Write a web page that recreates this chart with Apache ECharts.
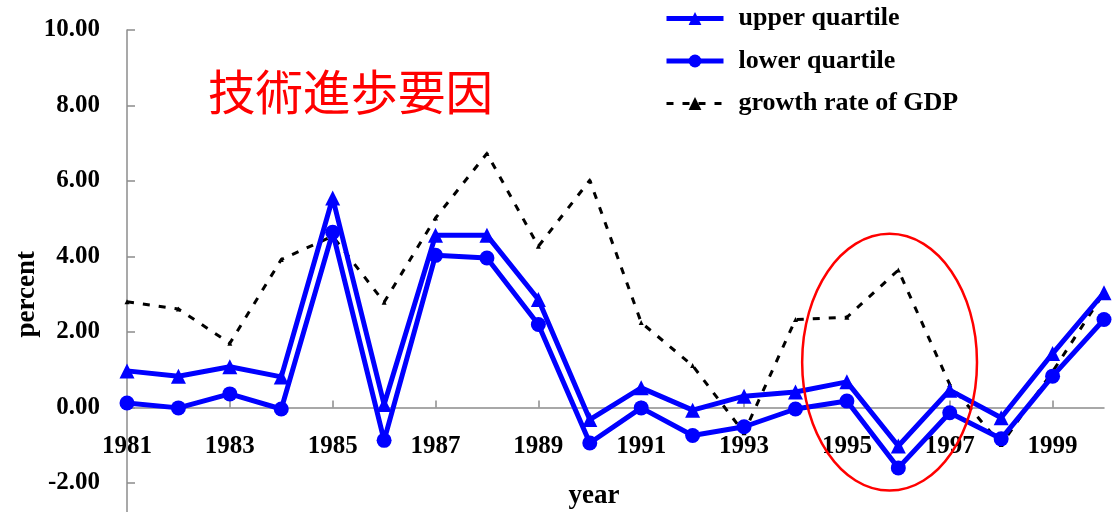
<!DOCTYPE html>
<html>
<head>
<meta charset="utf-8">
<script src="https://cdn.jsdelivr.net/npm/echarts@6/dist/echarts.min.js"></script>
<style>
  html, body { margin: 0; padding: 0; background: #ffffff; }
  #chart { width: 1112px; height: 512px; }
</style>
</head>
<body>
<div id="chart"></div>
<script>
// Years on the horizontal axis
const years = ['1981', '1982', '1983', '1984', '1985', '1986', '1987', '1988', '1989', '1990',
               '1991', '1992', '1993', '1994', '1995', '1996', '1997', '1998', '1999', '2000'];

// Technical progress factor, quartiles across regions (percent)
const upperQuartile = [0.97, 0.83, 1.08, 0.81, 5.55, 0.08, 4.56, 4.56, 2.86, -0.32,
                       0.52, -0.07, 0.30, 0.41, 0.68, -1.02, 0.46, -0.27, 1.43, 3.04];
const lowerQuartile = [0.12, -0.01, 0.36, -0.04, 4.64, -0.87, 4.03, 3.96, 2.20, -0.94,
                       -0.01, -0.74, -0.51, -0.04, 0.17, -1.60, -0.14, -0.83, 0.83, 2.33];
const gdpGrowth     = [2.80, 2.61, 1.70, 3.92, 4.54, 2.79, 5.02, 6.73, 4.27, 6.02,
                       2.25, 1.11, -0.67, 2.33, 2.39, 3.64, 0.61, -0.98, 0.95, 3.04];

const seriesNames = ['upper quartile', 'lower quartile', 'growth rate of GDP'];
const headline = '技術進歩要因';

// Highlighted period (1995-1997 slowdown): centre in (year index, percent), radii in years / percent
const focusCenter = { yearIndex: 14.83, value: 1.2 };
const focusRadius = { years: 1.7, value: 3.4 };

// Value range of the percent axis (the lowest step falls below the visible area)
const yMin = -4, yMax = 10, yStep = 2;

const serif = '"Liberation Serif", "Times New Roman", serif';
const blue = '#0000ff';
const axisGray = '#8c8c8c';

// Plot area: top edge at 10.00, bottom edge (at yMin) below the page
const gridTop = 30;
const gridBottom = -46.5;
const chartHeight = 512;
const plotHeight = chartHeight - gridTop - gridBottom;
// Distance from the plot's bottom edge up to the zero line, so the year axis sits on zero
const zeroLift = plotHeight * (0 - yMin) / (yMax - yMin);

const chart = echarts.init(document.getElementById('chart'), null, { renderer: 'canvas' });

chart.setOption({
  animation: false,
  backgroundColor: '#ffffff',
  title: {
    text: headline,
    left: 203,
    top: 63,
    textStyle: {
      color: '#ff0000',
      fontSize: 47.5,
      fontWeight: 'normal',
      fontFamily: '"Noto Sans CJK JP", "Noto Sans CJK SC", sans-serif'
    }
  },
  legend: {
    orient: 'vertical',
    left: 664,
    top: 5.5,
    padding: 0,
    itemWidth: 57,
    itemHeight: 16,
    itemGap: 16.5,
    data: [
      { name: seriesNames[0], lineStyle: { width: 5 } },
      { name: seriesNames[1], lineStyle: { width: 5 } },
      { name: seriesNames[2], lineStyle: { width: 3 } }
    ],
    textStyle: {
      fontFamily: serif,
      fontWeight: 'bold',
      fontSize: 26,
      color: '#000000',
      padding: [0, 0, 0, 10]
    }
  },
  grid: {
    left: 127,
    right: 8,
    top: gridTop,
    bottom: gridBottom,
    containLabel: false,
    outerBoundsMode: 'none'
  },
  xAxis: {
    type: 'category',
    data: years,
    boundaryGap: false,
    offset: -zeroLift,
    name: 'year',
    nameLocation: 'middle',
    nameGap: 75,
    nameMoveOverlap: false,
    nameTextStyle: {
      fontFamily: serif,
      fontWeight: 'bold',
      fontSize: 27,
      color: '#000000',
      padding: [0, 43, 0, 0]
    },
    axisLine: { onZero: false, lineStyle: { color: axisGray, width: 1.5 } },
    axisTick: { show: true, inside: true, interval: 1, length: 7, lineStyle: { color: axisGray, width: 1.5 } },
    axisLabel: {
      interval: 1,
      margin: 27,
      fontFamily: serif,
      fontWeight: 'bold',
      fontSize: 25,
      color: '#000000'
    },
    splitLine: { show: false }
  },
  yAxis: {
    type: 'value',
    min: yMin,
    max: yMax,
    interval: yStep,
    name: 'percent',
    nameLocation: 'middle',
    nameGap: 86,
    nameMoveOverlap: false,
    nameRotate: 90,
    nameTextStyle: {
      fontFamily: serif,
      fontWeight: 'bold',
      fontSize: 27,
      color: '#000000'
    },
    axisLine: { show: true, lineStyle: { color: axisGray, width: 1.5 } },
    axisTick: { show: true, inside: true, length: 8, lineStyle: { color: axisGray, width: 1.5 } },
    axisLabel: {
      margin: 27,
      fontFamily: serif,
      fontWeight: 'bold',
      fontSize: 25,
      color: '#000000',
      formatter: v => v.toFixed(2)
    },
    splitLine: { show: false }
  },
  series: [
    {
      name: seriesNames[0],
      type: 'line',
      data: upperQuartile,
      symbol: 'triangle',
      symbolSize: 15,
      lineStyle: { color: blue, width: 5 },
      itemStyle: { color: blue },
      z: 3
    },
    {
      name: seriesNames[1],
      type: 'line',
      data: lowerQuartile,
      symbol: 'circle',
      symbolSize: 15,
      lineStyle: { color: blue, width: 5 },
      itemStyle: { color: blue },
      z: 3
    },
    {
      name: seriesNames[2],
      type: 'line',
      data: gdpGrowth,
      symbol: 'triangle',
      symbolSize: 5,
      lineStyle: { color: '#000000', width: 3, type: [7, 9] },
      itemStyle: { color: '#000000' },
      z: 2
    }
  ]
});

// Red ellipse around the 1995-1997 period, placed through the chart's own scales
const i0 = Math.floor(focusCenter.yearIndex);
const xa = chart.convertToPixel({ xAxisIndex: 0 }, years[i0]);
const xb = chart.convertToPixel({ xAxisIndex: 0 }, years[i0 + 1]);
const yearStep = xb - xa;
const cx = xa + (focusCenter.yearIndex - i0) * yearStep;
const cy = chart.convertToPixel({ yAxisIndex: 0 }, focusCenter.value);
const ry = Math.abs(chart.convertToPixel({ yAxisIndex: 0 }, 0) -
                    chart.convertToPixel({ yAxisIndex: 0 }, focusRadius.value));
chart.setOption({
  graphic: [{
    type: 'ellipse',
    z: 100,
    shape: { cx: cx, cy: cy, rx: yearStep * focusRadius.years, ry: ry },
    style: { fill: 'none', stroke: '#ff0000', lineWidth: 2.5 }
  }]
});
</script>
</body>
</html>
